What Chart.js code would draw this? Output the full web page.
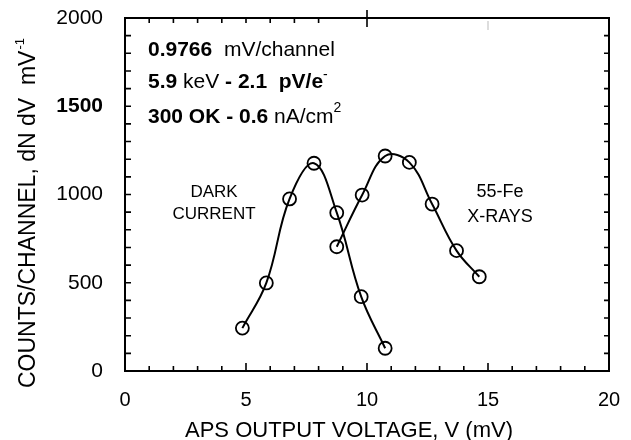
<!DOCTYPE html>
<html>
<head>
<meta charset="utf-8">
<script src="https://cdn.jsdelivr.net/npm/chart.js@4.4.1/dist/chart.umd.min.js"></script>
<style>
html,body{margin:0;padding:0;background:#fff;}
#wrap{width:631px;height:440px;}
</style>
</head>
<body>
<div id="wrap"><canvas id="c" width="631" height="440"></canvas></div>
<script>
// ---- data ----
const darkVoltage = [4.85, 5.84, 6.80, 7.81, 8.75, 9.76, 10.75];
const darkCounts  = [243, 499, 975, 1177, 897, 421, 129];
const xrayVoltage = [8.75, 9.80, 10.75, 11.75, 12.69, 13.70, 14.64];
const xrayCounts  = [704, 997, 1218, 1182, 946, 682, 534];
const xTickLabels = ['0', '5', '10', '15', '20'];
const yTickLabels = ['0', '500', '1000', '1500', '2000'];
const xTitle = 'APS OUTPUT VOLTAGE, V (mV)';
const yTitle = 'COUNTS/CHANNEL, dN dV  mV';
const darkLabel = ['DARK', 'CURRENT'];
const xrayLabel = ['55-Fe', 'X-RAYS'];

const FAM = '"Liberation Sans", Arial, Helvetica, sans-serif';

function pts(xs, ys) { return xs.map((x, i) => ({x: x, y: ys[i]})); }

const decor = {
  id: 'decor',
  afterDatasetsDraw(chart) {
    const ctx = chart.ctx;
    const a = chart.chartArea;
    const xs = chart.scales.x, ys = chart.scales.y;
    ctx.save();
    ctx.strokeStyle = '#000';
    ctx.fillStyle = '#000';
    // frame
    ctx.lineWidth = 2;
    ctx.strokeRect(a.left, a.top, a.right - a.left, a.bottom - a.top);
    // tick marks
    ctx.lineWidth = 1.6;
    ctx.beginPath();
    for (let v = 0; v <= 20; v++) {
      const px = xs.getPixelForValue(v);
      const len = (v % 5 === 0) ? 8 : 5;
      ctx.moveTo(px, a.bottom); ctx.lineTo(px, a.bottom - len);
      if (v <= 8) { ctx.moveTo(px, a.top); ctx.lineTo(px, a.top + 5); }
      if (v === 10) { ctx.moveTo(px, a.top - 8); ctx.lineTo(px, a.top + 9); }
    }
    for (let v = 0; v <= 2000; v += 100) {
      const py = ys.getPixelForValue(v);
      ctx.moveTo(a.left, py); ctx.lineTo(a.left + 6, py);
      ctx.moveTo(a.right, py); ctx.lineTo(a.right - 5, py);
    }
    ctx.stroke();
    // faint top tick at 15
    ctx.strokeStyle = '#bbb';
    ctx.lineWidth = 1;
    ctx.beginPath();
    const p15 = xs.getPixelForValue(15);
    ctx.moveTo(p15, a.top + 3); ctx.lineTo(p15, a.top + 12);
    ctx.stroke();

    // axis titles
    ctx.fillStyle = '#000';
    ctx.textBaseline = 'middle';
    ctx.textAlign = 'center';
    ctx.font = '22px ' + FAM;
    ctx.fillText(xTitle, 349, 431);

    ctx.save();
    ctx.translate(29, 388);
    ctx.rotate(-Math.PI / 2);
    ctx.textAlign = 'left';
    ctx.font = '23px ' + FAM;
    ctx.fillText(yTitle, 0, 0);
    const w = ctx.measureText(yTitle).width;
    ctx.font = '13px ' + FAM;
    ctx.fillText('-1', w + 1, -9);
    ctx.restore();

    // rich annotation lines
    function rich(x, y, segs) {
      ctx.textAlign = 'left';
      for (const s of segs) {
        ctx.font = s.f;
        ctx.fillText(s.t, x, y + (s.dy || 0));
        x += ctx.measureText(s.t).width;
      }
    }
    const B = 'bold 21px ' + FAM, N = '21px ' + FAM, S = '14px ' + FAM;
    const lx = a.left + 23;
    rich(lx, a.top + 32, [{t: '0.9766', f: B}, {t: '  mV/channel', f: N}]);
    rich(lx, a.top + 64, [{t: '5.9', f: B}, {t: ' keV', f: N}, {t: ' - 2.1  pV/e', f: B}, {t: '-', f: S, dy: -7}]);
    rich(lx, a.top + 99, [{t: '300 OK - 0.6', f: B}, {t: ' nA/cm', f: N}, {t: '2', f: S, dy: -9}]);

    // curve labels
    ctx.textAlign = 'center';
    ctx.font = '17px ' + FAM;
    ctx.fillText(darkLabel[0], 214, 192);
    ctx.fillText(darkLabel[1], 214, 214);
    ctx.font = '18px ' + FAM;
    ctx.fillText(xrayLabel[0], 500, 192);
    ctx.fillText(xrayLabel[1], 500, 217);
    ctx.restore();
  }
};

function zeroPad(s) { s.paddingTop = 0; s.paddingBottom = 0; s.paddingLeft = 0; s.paddingRight = 0; }

new Chart(document.getElementById('c'), {
  type: 'scatter',
  data: {
    datasets: [
      {
        label: darkLabel.join(' '),
        data: pts(darkVoltage, darkCounts),
        showLine: true,
        tension: 0.4,
        borderColor: '#000',
        borderWidth: 2,
        pointRadius: 6.5,
        pointBorderWidth: 1.8,
        pointBorderColor: '#000',
        pointBackgroundColor: 'rgba(0,0,0,0)'
      },
      {
        label: xrayLabel.join(' '),
        data: pts(xrayVoltage, xrayCounts),
        showLine: true,
        tension: 0.4,
        borderColor: '#000',
        borderWidth: 2,
        pointRadius: 6.5,
        pointBorderWidth: 1.8,
        pointBorderColor: '#000',
        pointBackgroundColor: 'rgba(0,0,0,0)'
      }
    ]
  },
  options: {
    responsive: false,
    devicePixelRatio: 1,
    animation: false,
    layout: {padding: {left: 0, top: 18, right: 22, bottom: 0}},
    plugins: {legend: {display: false}, tooltip: {enabled: false}},
    scales: {
      x: {
        type: 'linear', min: 0, max: 20,
        grid: {display: false, drawTicks: false},
        border: {display: false},
        ticks: {
          stepSize: 5, padding: 17, color: '#000', maxRotation: 0,
          font: {family: FAM, size: 20},
          callback: (v, i) => xTickLabels[i]
        },
        afterFit: s => { s.height = 69; zeroPad(s); }
      },
      y: {
        type: 'linear', min: 0, max: 2000,
        grid: {display: false, drawTicks: false},
        border: {display: false},
        ticks: {
          stepSize: 500, padding: 22, color: '#000',
          font: c => ({family: FAM, size: 21, weight: (c.tick && c.tick.value === 1500) ? 'bold' : 'normal'}),
          callback: (v, i) => yTickLabels[i]
        },
        afterFit: s => { s.width = 125; zeroPad(s); }
      }
    }
  },
  plugins: [decor]
});
</script>
</body>
</html>
